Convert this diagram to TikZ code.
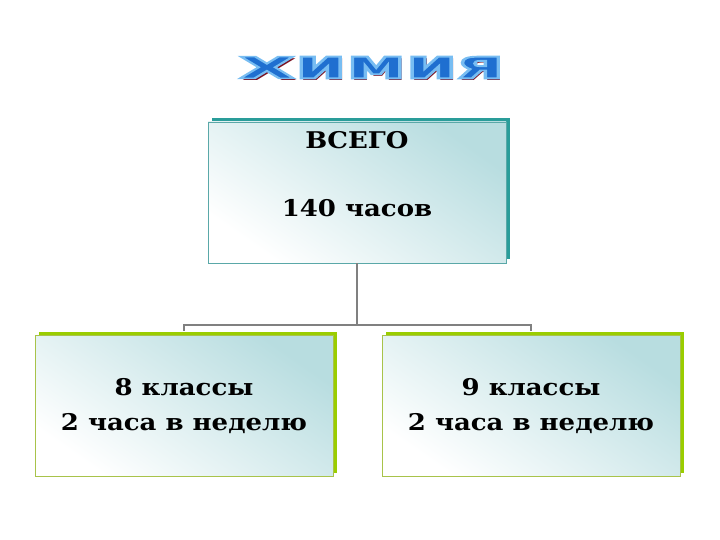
\documentclass[tikz,border=0pt]{standalone}
\usepackage{fontspec}
\setmainfont{DejaVu Serif}[FakeStretch=1.13]
\newfontfamily\wordfont{DejaVu Sans}
\usetikzlibrary{positioning, shadows}

\definecolor{tealshadow}{HTML}{2A9D9A}
\definecolor{tealedge}{HTML}{5AA8A8}
\definecolor{greenshadow}{HTML}{9ACD00}
\definecolor{greenedge}{HTML}{A8C34A}
\definecolor{paleteal}{HTML}{B8DDE0}
\definecolor{linkgray}{HTML}{808080}
\definecolor{wordblue}{HTML}{1F6FD0}
\definecolor{wordshadow}{HTML}{7A1020}

% stretched word, filled blue with a light blue outline
\newcommand{\wordart}{\scalebox{2.15}[0.88]{\wordfont\bfseries Х\scalebox{1}[1.33]{имия}}}
\newcommand{\outlined}[1]{\special{pdf:code q 0.47 0.74 0.95 RG 1.6 w 2 Tr}#1\special{pdf:code 0 Tr Q}}

\tikzset{
    card/.style={minimum width=298pt, minimum height=141pt, inner sep=0pt, line width=0.7pt,
        top color=paleteal, bottom color=white, shading angle=-35, align=center,
        font=\bfseries\fontsize{23}{35}\selectfont},
    topcard/.style={card, draw=tealedge,
        drop shadow={shadow xshift=4pt, shadow yshift=4pt, fill=tealshadow, opacity=1}},
    classcard/.style={card, draw=greenedge,
        drop shadow={shadow xshift=4pt, shadow yshift=4pt, fill=greenshadow, opacity=1}},
    cardtext/.style={inner sep=0pt, font=\bfseries\fontsize{23}{28}\selectfont},
    link/.style={draw=linkgray, line width=2pt},
    title/.style={inner sep=0pt, font=\fontsize{34}{34}\selectfont}
}

\begin{document}
\begin{tikzpicture}[x=1pt, y=-1pt]
    \useasboundingbox (0,0) rectangle (720,540);
    % title
    \node[title, text=wordshadow] (titleshadow) at (374,70) {\wordart};
    \node[title, text=wordblue] (titletext) at (371.5,67.5) {\outlined{\wordart}};
    % boxes
    \node[topcard] (total) at (357,192.5) {};
    \node[cardtext, below=10pt of total.north] (totala) {ВСЕГО};
    \node[cardtext, below=50pt of totala] (totalb) {140 часов};
    \node[classcard] (eight) at (184,406) {8 классы\\2 часа в неделю};
    \node[classcard] (nine) at (531,406) {9 классы\\2 часа в неделю};
    % links
    \draw[link] (total.south) -- ++(0,62) coordinate (fork) -| ([yshift=4pt]eight.north);
    \draw[link] (fork) -| ([yshift=4pt]nine.north);
\end{tikzpicture}
\end{document}
